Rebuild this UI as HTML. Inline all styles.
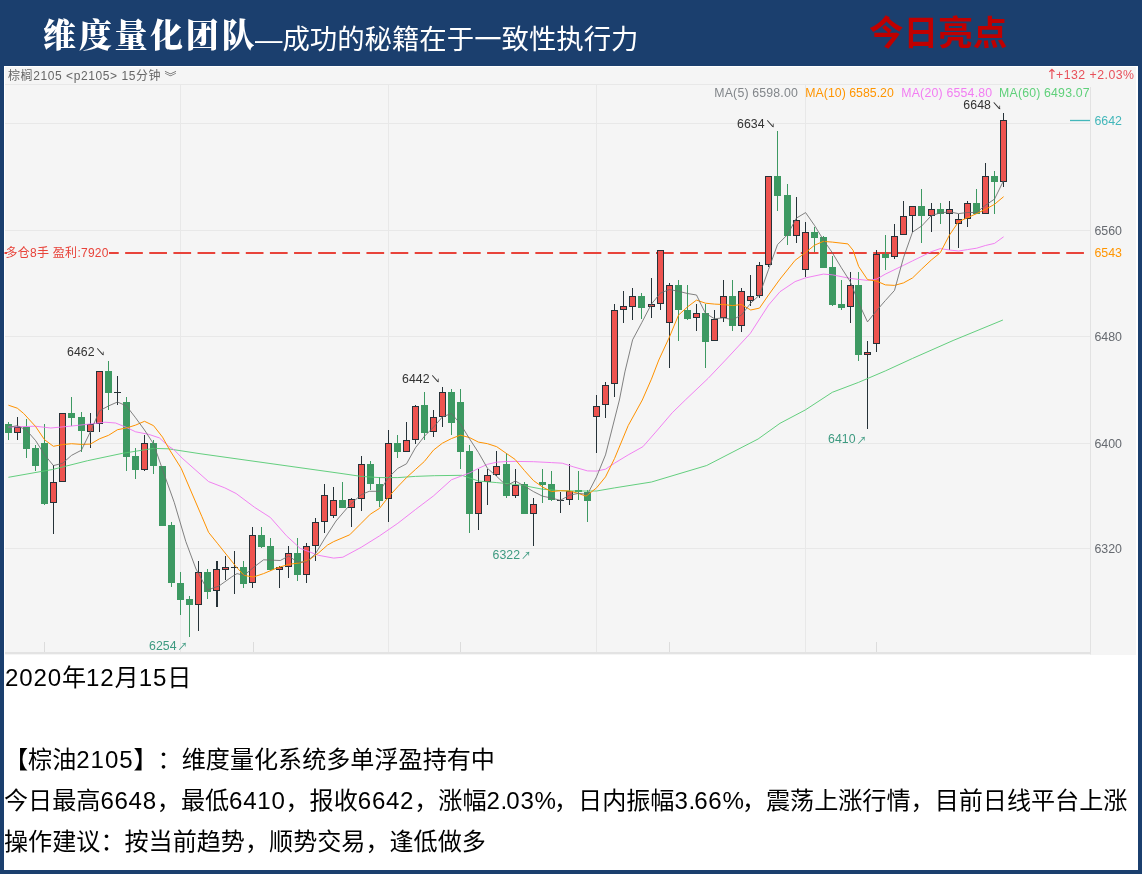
<!DOCTYPE html>
<html lang="zh-CN"><head><meta charset="utf-8"><title>维度量化团队</title>
<style>
html,body{margin:0;padding:0}
body{width:1142px;height:874px;background:#1b3f6e;position:relative;overflow:hidden;font-family:"Liberation Sans","Noto Sans CJK SC",sans-serif}
#t1{position:absolute;left:43px;top:14px;font:900 33px/44px "Liberation Serif","Noto Serif CJK SC",serif;color:#fff;letter-spacing:2.7px;white-space:nowrap}
#t2{position:absolute;left:255px;top:21px;font:400 27.4px/38px "Liberation Sans","Noto Sans CJK SC",sans-serif;color:#fff;white-space:nowrap}
#t3{position:absolute;left:869px;top:10px;font:700 34.6px/46px "Liberation Sans","Noto Sans CJK SC",sans-serif;color:#c00000;white-space:nowrap}
#panel{position:absolute;left:4px;top:66px;width:1134px;height:804px;background:#fff}
#chart{position:absolute;left:1px;top:1px;width:1131px;height:588px;background:#f5f5f5}
svg{position:absolute;left:0;top:0}
svg text{font-family:"Liberation Sans","Noto Sans CJK SC",sans-serif}
#txt{position:absolute;left:4px;top:657px;width:1134px;color:#000;font-size:24.1px;line-height:41px;white-space:nowrap;text-spacing-trim:space-all}
#txt div{height:41px}
#txt .a{letter-spacing:.85px}
#txt .b{letter-spacing:.9px}
#txt .c{letter-spacing:.7px}
#txt .p{letter-spacing:-1px}
#txt .q{letter-spacing:-2px}
</style></head><body>
<div id="t1">维度量化团队</div>
<div id="t2">—成功的秘籍在于一致性执行力</div>
<div id="t3">今日亮点</div>
<div id="panel"><div id="chart"></div></div>
<svg width="1142" height="874" viewBox="0 0 1142 874">
<line x1="5" y1="84.5" x2="1040" y2="84.5" stroke="#e8e8e8"/>
<line x1="5" y1="123.5" x2="1090" y2="123.5" stroke="#e8e8e8"/>
<line x1="5" y1="230.5" x2="1090" y2="230.5" stroke="#e8e8e8"/>
<line x1="5" y1="336.5" x2="1090" y2="336.5" stroke="#e8e8e8"/>
<line x1="5" y1="443.5" x2="1090" y2="443.5" stroke="#e8e8e8"/>
<line x1="5" y1="548.5" x2="1090" y2="548.5" stroke="#e8e8e8"/>
<line x1="180.5" y1="85" x2="180.5" y2="652" stroke="#e8e8e8"/>
<line x1="388.5" y1="85" x2="388.5" y2="652" stroke="#e8e8e8"/>
<line x1="596.5" y1="85" x2="596.5" y2="652" stroke="#e8e8e8"/>
<line x1="805.5" y1="85" x2="805.5" y2="652" stroke="#e8e8e8"/>
<line x1="1090.5" y1="87" x2="1090.5" y2="654.5" stroke="#e2e2e2"/>
<line x1="44.5" y1="642" x2="44.5" y2="652" stroke="#dcdcdc"/>
<line x1="253.5" y1="642" x2="253.5" y2="652" stroke="#dcdcdc"/>
<line x1="460.5" y1="642" x2="460.5" y2="652" stroke="#dcdcdc"/>
<line x1="669.5" y1="642" x2="669.5" y2="652" stroke="#dcdcdc"/>
<line x1="876.5" y1="642" x2="876.5" y2="652" stroke="#dcdcdc"/>
<rect x="5" y="652" width="1085.5" height="2" fill="#e3e3e3"/>
<line x1="4.5" y1="253" x2="1084.2" y2="253" stroke="#e8433a" stroke-width="2" stroke-dasharray="17.7 6.43"/>
<rect x="7" y="245" width="102" height="15" fill="#f5f5f5"/>
<g shape-rendering="crispEdges"><path d="M8.5 422V440" stroke="#3d9962"/><rect x="5.0" y="424" width="7" height="9" fill="#3d9962"/><path d="M17.5 417V440" stroke="#263238"/><rect x="14.5" y="427.5" width="6" height="5" fill="#ee534f" stroke="#263238"/><path d="M26.5 419V458" stroke="#3d9962"/><rect x="23.0" y="427" width="7" height="22" fill="#3d9962"/><path d="M35.5 445V471" stroke="#3d9962"/><rect x="32.0" y="448" width="7" height="18" fill="#3d9962"/><path d="M44.5 424V505" stroke="#3d9962"/><rect x="41.0" y="443" width="7" height="61" fill="#3d9962"/><path d="M53.5 465V534" stroke="#263238"/><rect x="50.5" y="482.5" width="6" height="20" fill="#ee534f" stroke="#263238"/><path d="M62.5 413V482" stroke="#263238"/><rect x="59.5" y="413.5" width="6" height="68" fill="#ee534f" stroke="#263238"/><path d="M71.5 397V426" stroke="#3d9962"/><rect x="68.0" y="413" width="7" height="5" fill="#3d9962"/><path d="M81.5 412V452" stroke="#3d9962"/><rect x="78.0" y="417" width="7" height="14" fill="#3d9962"/><path d="M90.5 413V448" stroke="#263238"/><rect x="87.5" y="424.5" width="6" height="7" fill="#ee534f" stroke="#263238"/><path d="M99.5 371V432" stroke="#263238"/><rect x="96.5" y="371.5" width="6" height="52" fill="#ee534f" stroke="#263238"/><path d="M108.5 361V410" stroke="#3d9962"/><rect x="105.0" y="371" width="7" height="22" fill="#3d9962"/><path d="M117.5 376V405M114.0 392.5H121.0" stroke="#263238"/><path d="M126.5 397V471" stroke="#3d9962"/><rect x="123.0" y="402" width="7" height="55" fill="#3d9962"/><path d="M135.5 448V479" stroke="#3d9962"/><rect x="132.0" y="456" width="7" height="14" fill="#3d9962"/><path d="M144.5 435V471" stroke="#263238"/><rect x="141.5" y="443.5" width="6" height="26" fill="#ee534f" stroke="#263238"/><path d="M153.5 440V474" stroke="#3d9962"/><rect x="150.0" y="443" width="7" height="23" fill="#3d9962"/><path d="M162.5 466V526" stroke="#3d9962"/><rect x="159.0" y="466" width="7" height="60" fill="#3d9962"/><path d="M171.5 522V587" stroke="#3d9962"/><rect x="168.0" y="525" width="7" height="58" fill="#3d9962"/><path d="M180.5 572V615" stroke="#3d9962"/><rect x="177.0" y="583" width="7" height="17" fill="#3d9962"/><path d="M189.5 596V637" stroke="#3d9962"/><rect x="186.0" y="599" width="7" height="6" fill="#3d9962"/><path d="M198.5 561V631" stroke="#263238"/><rect x="195.5" y="572.5" width="6" height="32" fill="#ee534f" stroke="#263238"/><path d="M207.5 569V599" stroke="#3d9962"/><rect x="204.0" y="572" width="7" height="20" fill="#3d9962"/><path d="M216.5 561V607" stroke="#263238" stroke-width="2"/><rect x="213.5" y="569.5" width="6" height="21" fill="#ee534f" stroke="#263238"/><path d="M225.5 556V580" stroke="#263238"/><rect x="222.5" y="567.5" width="6" height="2" fill="#ee534f" stroke="#263238"/><path d="M234.5 551V594M231.0 567.5H238.0" stroke="#263238"/><path d="M243.5 561V588" stroke="#3d9962"/><rect x="240.0" y="567" width="7" height="17" fill="#3d9962"/><path d="M252.5 527V588" stroke="#263238"/><rect x="249.5" y="535.5" width="6" height="47" fill="#ee534f" stroke="#263238"/><path d="M261.5 527V548" stroke="#3d9962"/><rect x="258.0" y="535" width="7" height="12" fill="#3d9962"/><path d="M270.5 538V571" stroke="#3d9962"/><rect x="267.0" y="546" width="7" height="24" fill="#3d9962"/><path d="M279.5 566V588" stroke="#263238"/><rect x="276.5" y="567.5" width="6" height="2" fill="#ee534f" stroke="#263238"/><path d="M288.5 546V578" stroke="#263238"/><rect x="285.5" y="553.5" width="6" height="13" fill="#ee534f" stroke="#263238"/><path d="M297.5 538V581" stroke="#3d9962"/><rect x="294.0" y="553" width="7" height="22" fill="#3d9962"/><path d="M306.5 543V583" stroke="#263238"/><rect x="303.5" y="546.5" width="6" height="28" fill="#ee534f" stroke="#263238"/><path d="M315.5 518V561" stroke="#263238"/><rect x="312.5" y="522.5" width="6" height="23" fill="#ee534f" stroke="#263238"/><path d="M324.5 484V533" stroke="#263238"/><rect x="321.5" y="495.5" width="6" height="26" fill="#ee534f" stroke="#263238"/><path d="M333.5 487V518" stroke="#263238"/><rect x="330.5" y="500.5" width="6" height="15" fill="#ee534f" stroke="#263238"/><path d="M342.5 482V508" stroke="#3d9962"/><rect x="339.0" y="500" width="7" height="8" fill="#3d9962"/><path d="M351.5 498V527" stroke="#263238"/><rect x="348.5" y="499.5" width="6" height="8" fill="#ee534f" stroke="#263238"/><path d="M361.5 456V511" stroke="#263238"/><rect x="358.5" y="464.5" width="6" height="34" fill="#ee534f" stroke="#263238"/><path d="M370.5 461V490" stroke="#3d9962"/><rect x="367.0" y="464" width="7" height="20" fill="#3d9962"/><path d="M379.5 477V507" stroke="#3d9962"/><rect x="376.0" y="484" width="7" height="17" fill="#3d9962"/><path d="M388.5 430V522" stroke="#263238"/><rect x="385.5" y="443.5" width="6" height="55" fill="#ee534f" stroke="#263238"/><path d="M397.5 435V458" stroke="#3d9962"/><rect x="394.0" y="443" width="7" height="9" fill="#3d9962"/><path d="M406.5 422V452" stroke="#263238"/><rect x="403.5" y="440.5" width="6" height="11" fill="#ee534f" stroke="#263238"/><path d="M415.5 405V444" stroke="#263238"/><rect x="412.5" y="406.5" width="6" height="33" fill="#ee534f" stroke="#263238"/><path d="M424.5 392V440" stroke="#3d9962"/><rect x="421.0" y="405" width="7" height="28" fill="#3d9962"/><path d="M433.5 410V437" stroke="#263238"/><rect x="430.5" y="417.5" width="6" height="14" fill="#ee534f" stroke="#263238"/><path d="M442.5 387V427" stroke="#263238"/><rect x="439.5" y="392.5" width="6" height="24" fill="#ee534f" stroke="#263238"/><path d="M451.5 389V435" stroke="#3d9962"/><rect x="448.0" y="392" width="7" height="31" fill="#3d9962"/><path d="M460.5 389V469" stroke="#3d9962"/><rect x="457.0" y="402" width="7" height="50" fill="#3d9962"/><path d="M469.5 445V533" stroke="#3d9962"/><rect x="466.0" y="451" width="7" height="63" fill="#3d9962"/><path d="M478.5 469V530" stroke="#263238"/><rect x="475.5" y="482.5" width="6" height="31" fill="#ee534f" stroke="#263238"/><path d="M487.5 469V505" stroke="#263238"/><rect x="484.5" y="475.5" width="6" height="6" fill="#ee534f" stroke="#263238"/><path d="M496.5 451V476" stroke="#263238"/><rect x="493.5" y="466.5" width="6" height="8" fill="#ee534f" stroke="#263238"/><path d="M506.5 453V498" stroke="#3d9962"/><rect x="503.0" y="464" width="7" height="32" fill="#3d9962"/><path d="M515.5 469V498" stroke="#263238"/><rect x="512.5" y="485.5" width="6" height="10" fill="#ee534f" stroke="#263238"/><path d="M524.5 482V514" stroke="#3d9962"/><rect x="521.0" y="484" width="7" height="30" fill="#3d9962"/><path d="M533.5 498V546" stroke="#263238"/><rect x="530.5" y="504.5" width="6" height="9" fill="#ee534f" stroke="#263238"/><path d="M542.5 469V503" stroke="#3d9962"/><rect x="539.0" y="482" width="7" height="3" fill="#3d9962"/><path d="M551.5 471V501" stroke="#3d9962"/><rect x="548.0" y="484" width="7" height="16" fill="#3d9962"/><path d="M560.5 492V513M557.0 500.5H564.0" stroke="#263238"/><path d="M569.5 464V505" stroke="#263238"/><rect x="566.5" y="491.5" width="6" height="8" fill="#ee534f" stroke="#263238"/><path d="M578.5 471V500" stroke="#3d9962"/><rect x="575.0" y="490" width="7" height="2" fill="#3d9962"/><path d="M587.5 490V522" stroke="#3d9962"/><rect x="584.0" y="492" width="7" height="9" fill="#3d9962"/><path d="M596.5 395V453" stroke="#263238"/><rect x="593.5" y="406.5" width="6" height="10" fill="#ee534f" stroke="#263238"/><path d="M605.5 382V418" stroke="#263238"/><rect x="602.5" y="385.5" width="6" height="19" fill="#ee534f" stroke="#263238"/><path d="M614.5 304V397" stroke="#263238"/><rect x="611.5" y="310.5" width="6" height="73" fill="#ee534f" stroke="#263238"/><path d="M623.5 291V323" stroke="#263238"/><rect x="620.5" y="306.5" width="6" height="3" fill="#ee534f" stroke="#263238"/><path d="M632.5 288V320" stroke="#263238"/><rect x="629.5" y="296.5" width="6" height="10" fill="#ee534f" stroke="#263238"/><path d="M641.5 293V319" stroke="#3d9962"/><rect x="638.0" y="296" width="7" height="12" fill="#3d9962"/><path d="M651.5 278V318" stroke="#263238"/><rect x="648.5" y="304.5" width="6" height="2" fill="#ee534f" stroke="#263238"/><path d="M660.5 250V310" stroke="#263238"/><rect x="657.5" y="250.5" width="6" height="53" fill="#ee534f" stroke="#263238"/><path d="M669.5 283V368" stroke="#263238"/><rect x="666.5" y="285.5" width="6" height="37" fill="#ee534f" stroke="#263238"/><path d="M678.5 280V341" stroke="#3d9962"/><rect x="675.0" y="285" width="7" height="25" fill="#3d9962"/><path d="M687.5 285V320" stroke="#3d9962"/><rect x="684.0" y="310" width="7" height="9" fill="#3d9962"/><path d="M696.5 304V331" stroke="#263238"/><rect x="693.5" y="313.5" width="6" height="4" fill="#ee534f" stroke="#263238"/><path d="M705.5 304V368" stroke="#3d9962"/><rect x="702.0" y="313" width="7" height="29" fill="#3d9962"/><path d="M714.5 310V341" stroke="#263238"/><rect x="711.5" y="319.5" width="6" height="21" fill="#ee534f" stroke="#263238"/><path d="M723.5 280V322" stroke="#263238"/><rect x="720.5" y="296.5" width="6" height="21" fill="#ee534f" stroke="#263238"/><path d="M732.5 280V331" stroke="#3d9962"/><rect x="729.0" y="296" width="7" height="30" fill="#3d9962"/><path d="M741.5 288V332" stroke="#263238"/><rect x="738.5" y="291.5" width="6" height="34" fill="#ee534f" stroke="#263238"/><path d="M750.5 275V306" stroke="#263238"/><rect x="747.5" y="296.5" width="6" height="4" fill="#ee534f" stroke="#263238"/><path d="M759.5 262V298" stroke="#263238"/><rect x="756.5" y="265.5" width="6" height="30" fill="#ee534f" stroke="#263238"/><path d="M768.5 176V267" stroke="#263238"/><rect x="765.5" y="176.5" width="6" height="88" fill="#ee534f" stroke="#263238"/><path d="M777.5 131V211" stroke="#3d9962"/><rect x="774.0" y="176" width="7" height="20" fill="#3d9962"/><path d="M787.5 184V245" stroke="#3d9962"/><rect x="784.0" y="195" width="7" height="41" fill="#3d9962"/><path d="M796.5 197V243" stroke="#263238"/><rect x="793.5" y="220.5" width="6" height="15" fill="#ee534f" stroke="#263238"/><path d="M805.5 222V277" stroke="#263238"/><rect x="802.5" y="232.5" width="6" height="37" fill="#ee534f" stroke="#263238"/><path d="M814.5 227V252" stroke="#3d9962"/><rect x="811.0" y="232" width="7" height="6" fill="#3d9962"/><path d="M823.5 236V268" stroke="#3d9962"/><rect x="820.0" y="237" width="7" height="31" fill="#3d9962"/><path d="M832.5 256V306" stroke="#3d9962"/><rect x="829.0" y="267" width="7" height="38" fill="#3d9962"/><path d="M841.5 280V310" stroke="#3d9962"/><rect x="838.0" y="304" width="7" height="4" fill="#3d9962"/><path d="M850.5 272V323" stroke="#263238"/><rect x="847.5" y="285.5" width="6" height="21" fill="#ee534f" stroke="#263238"/><path d="M858.5 272V361" stroke="#3d9962"/><rect x="855.0" y="285" width="7" height="70" fill="#3d9962"/><path d="M867.5 341V429" stroke="#263238"/><rect x="864.5" y="352.5" width="6" height="2" fill="#ee534f" stroke="#263238"/><path d="M876.5 250V352" stroke="#263238"/><rect x="873.5" y="254.5" width="6" height="89" fill="#ee534f" stroke="#263238"/><path d="M885.5 235V270" stroke="#3d9962"/><rect x="882.0" y="254" width="7" height="4" fill="#3d9962"/><path d="M894.5 224V259" stroke="#263238"/><rect x="891.5" y="236.5" width="6" height="20" fill="#ee534f" stroke="#263238"/><path d="M903.5 201V235" stroke="#263238"/><rect x="900.5" y="216.5" width="6" height="18" fill="#ee534f" stroke="#263238"/><path d="M912.5 206V232" stroke="#263238"/><rect x="909.5" y="206.5" width="6" height="9" fill="#ee534f" stroke="#263238"/><path d="M921.5 189V243" stroke="#3d9962"/><rect x="918.0" y="206" width="7" height="10" fill="#3d9962"/><path d="M931.5 203V232" stroke="#263238"/><rect x="928.5" y="209.5" width="6" height="6" fill="#ee534f" stroke="#263238"/><path d="M940.5 203V224" stroke="#3d9962"/><rect x="937.0" y="209" width="7" height="5" fill="#3d9962"/><path d="M949.5 201V250" stroke="#263238"/><rect x="946.5" y="209.5" width="6" height="4" fill="#ee534f" stroke="#263238"/><path d="M958.5 214V248" stroke="#263238"/><rect x="955.5" y="219.5" width="6" height="4" fill="#ee534f" stroke="#263238"/><path d="M967.5 201V227" stroke="#263238"/><rect x="964.5" y="203.5" width="6" height="15" fill="#ee534f" stroke="#263238"/><path d="M976.5 189V214" stroke="#3d9962"/><rect x="973.0" y="203" width="7" height="11" fill="#3d9962"/><path d="M985.5 163V214" stroke="#263238"/><rect x="982.5" y="176.5" width="6" height="37" fill="#ee534f" stroke="#263238"/><path d="M994.5 171V214" stroke="#3d9962"/><rect x="991.0" y="176" width="7" height="6" fill="#3d9962"/><path d="M1003.5 113V187" stroke="#263238"/><rect x="1000.5" y="120.5" width="6" height="61" fill="#ee534f" stroke="#263238"/></g>
<polyline points="8.4,477.3 52.5,469.5 87.6,460.7 122.6,453.3 153.6,448.4 168.1,448.8 200.0,453.7 340.0,473.3 361.2,476.4 379.5,477.6 397.8,477.6 415.4,476.4 434.4,475.7 461.9,475.3 478.4,481.0 496.7,482.6 520.0,484.9 542.5,489.2 560.4,490.7 578.4,491.0 596.5,491.0 614.5,487.9 651.5,482.0 706.7,465.5 758.1,439.0 780.0,423.3 805.4,409.9 832.3,392.3 858.7,382.3 885.4,370.9 912.6,358.4 953.1,340.5 1002.9,320.0" fill="none" stroke="#52c970" stroke-width="0.9" stroke-linejoin="round"/>
<polyline points="8.4,427.1 35.0,426.2 50.8,428.0 70.0,426.2 91.0,423.9 105.0,422.2 115.6,423.0 126.4,427.4 135.6,431.8 148.9,434.4 159.4,437.9 168.1,445.8 174.3,450.0 182.1,458.1 208.6,481.6 224.7,487.8 236.1,493.5 254.4,507.2 270.4,517.5 286.5,535.8 300.2,548.4 318.5,555.3 333.7,558.1 342.9,557.2 361.2,547.3 379.5,535.9 397.8,523.3 415.4,509.6 433.5,495.9 451.4,479.8 460.3,476.4 469.4,473.0 478.4,468.4 487.5,464.3 496.7,462.2 506.5,461.5 515.2,461.4 533.5,461.7 551.5,462.6 562.3,463.2 573.3,466.8 587.5,470.9 596.5,471.1 605.5,469.2 614.5,463.2 628.2,454.9 642.9,446.7 655.7,432.1 672.2,412.8 685.3,400.0 708.2,378.3 726.5,359.0 750.3,333.4 768.6,305.0 780.0,291.7 795.1,281.6 805.4,277.9 823.3,274.1 832.3,274.8 850.2,278.4 867.5,280.4 876.6,279.1 885.4,274.1 903.5,265.3 912.5,260.9 931.3,251.7 940.3,248.6 949.4,250.0 958.5,251.0 967.5,249.6 976.6,248.2 985.4,245.5 994.5,243.4 1003.6,236.8" fill="none" stroke="#f074f0" stroke-width="0.9" stroke-linejoin="round"/>
<polyline points="8.4,405.2 17.3,408.2 23.6,413.4 35.6,426.5 44.5,439.7 53.4,446.3 62.5,444.6 71.5,443.7 81.4,444.4 90.4,444.1 99.5,438.8 108.6,435.3 117.5,429.7 126.4,428.0 135.6,425.1 144.5,421.3 153.6,425.7 162.5,437.1 169.7,450.0 181.2,468.3 201.8,516.4 208.6,532.4 217.8,543.8 236.1,566.7 244.1,575.4 253.3,577.0 263.6,573.6 277.3,567.8 288.7,564.4 300.2,562.8 309.3,559.8 318.5,553.0 327.6,545.0 333.7,541.6 349.7,534.8 361.2,523.3 370.3,514.2 379.5,508.4 388.4,497.0 397.8,486.7 406.5,477.6 415.4,469.5 424.3,461.5 433.5,450.1 442.4,443.2 451.4,438.6 460.3,435.2 469.4,437.5 478.4,442.1 487.5,443.7 496.7,446.7 506.5,453.5 515.2,459.5 524.4,470.5 533.5,480.6 542.5,487.0 551.5,491.6 560.4,490.7 569.4,491.0 578.4,493.4 586.0,496.2 596.5,487.9 605.5,476.9 614.5,458.6 628.2,425.6 642.3,400.0 651.4,379.2 658.8,360.0 669.4,337.1 678.5,315.1 687.5,306.9 696.5,300.1 705.5,303.2 714.6,304.1 723.4,304.5 732.6,305.6 741.4,304.5 750.7,310.0 759.5,308.1 768.6,294.9 780.0,279.1 795.1,260.3 805.4,252.7 814.5,245.2 823.3,241.4 832.3,242.1 847.9,243.9 853.0,250.2 858.7,266.5 867.5,279.6 876.6,281.1 885.4,284.9 894.5,285.4 903.5,282.9 912.6,277.9 921.6,269.1 931.3,260.0 940.3,252.7 949.4,235.2 958.5,221.8 967.5,217.7 976.6,213.6 985.4,209.4 994.5,204.3 1003.6,196.7" fill="none" stroke="#ff9200" stroke-width="1" stroke-linejoin="round"/>
<polyline points="8.4,427.4 17.3,425.7 26.4,430.0 35.6,440.6 44.5,454.6 53.4,465.6 62.5,463.3 71.5,455.4 81.4,450.2 90.4,431.8 99.5,410.8 108.6,405.9 117.5,402.0 126.4,405.9 135.6,417.8 144.5,430.0 153.6,444.0 162.9,470.6 174.3,502.6 185.8,541.5 196.0,569.0 207.5,590.0 219.0,586.0 231.5,577.0 237.0,573.6 244.0,575.4 254.4,566.7 263.6,559.8 280.3,560.5 288.7,556.0 297.4,562.0 306.4,562.0 315.3,554.0 324.4,539.0 336.0,521.0 349.7,505.0 361.2,494.7 369.2,491.3 379.5,491.3 388.4,477.6 397.8,468.4 406.5,463.8 415.4,447.8 424.3,436.4 433.5,427.2 442.4,416.9 451.4,413.5 460.3,423.8 469.4,438.6 478.4,452.4 487.5,468.4 496.7,476.4 506.5,485.6 515.4,481.0 524.4,486.1 533.5,491.6 542.5,496.2 551.5,498.0 560.4,500.4 569.4,495.2 578.4,493.4 587.5,494.3 596.5,476.9 605.5,454.9 619.4,400.0 624.9,371.9 632.6,339.8 641.9,322.4 651.4,304.1 660.4,293.1 669.4,289.5 678.5,291.3 687.5,293.5 696.5,295.0 700.9,304.1 705.5,313.3 714.6,318.8 723.4,317.8 732.6,319.7 741.4,315.1 750.7,303.2 759.5,295.0 768.6,269.3 777.5,244.6 787.6,234.5 796.4,218.1 805.6,212.6 814.5,225.4 823.5,240.0 832.3,252.7 841.4,267.8 850.2,281.6 858.7,303.0 867.5,321.9 876.6,310.6 885.4,300.5 894.5,290.4 903.5,257.7 912.5,232.1 921.8,225.9 931.3,215.6 940.3,212.9 949.4,211.9 958.5,213.6 967.5,212.5 976.6,212.5 985.4,205.3 994.5,199.1 1003.6,180.6" fill="none" stroke="#6c6c6c" stroke-width="0.85" stroke-linejoin="round"/>
<text x="8" y="80.2" fill="#666" font-size="12" text-anchor="start" textLength="152.5" lengthAdjust="spacing">棕榈2105 &lt;p2105&gt; 15分钟</text>
<text x="164.5" y="82.3" fill="#666" font-size="12" text-anchor="start">︾</text>
<text x="1046.2" y="79.4" fill="#e8505a" font-size="14" text-anchor="start" style="font-family:'DejaVu Sans',sans-serif">↑</text>
<text x="1056" y="79" fill="#e8505a" font-size="12.3" text-anchor="start" textLength="78" lengthAdjust="spacing">+132 +2.03%</text>
<text x="714.3" y="97.2" fill="#82868a" font-size="12.3" text-anchor="start" textLength="83.5" lengthAdjust="spacing">MA(5) 6598.00</text>
<text x="805.3" y="97.2" fill="#ff9500" font-size="12.3" text-anchor="start" textLength="88.5" lengthAdjust="spacing">MA(10) 6585.20</text>
<text x="901.2" y="97.2" fill="#f27df2" font-size="12.3" text-anchor="start" textLength="91" lengthAdjust="spacing">MA(20) 6554.80</text>
<text x="999.1" y="97.2" fill="#5fd07a" font-size="12.3" text-anchor="start" textLength="90.5" lengthAdjust="spacing">MA(60) 6493.07</text>
<text x="1094.5" y="235.0" fill="#666a70" font-size="12.4" text-anchor="start" textLength="27.4" lengthAdjust="spacing">6560</text>
<text x="1094.5" y="341.0" fill="#666a70" font-size="12.4" text-anchor="start" textLength="27.4" lengthAdjust="spacing">6480</text>
<text x="1094.5" y="448.0" fill="#666a70" font-size="12.4" text-anchor="start" textLength="27.4" lengthAdjust="spacing">6400</text>
<text x="1094.5" y="553.0" fill="#666a70" font-size="12.4" text-anchor="start" textLength="27.4" lengthAdjust="spacing">6320</text>
<text x="1094.5" y="256.9" fill="#ff9500" font-size="12.4" text-anchor="start" textLength="27.4" lengthAdjust="spacing">6543</text>
<text x="1094.5" y="125.0" fill="#43b7ba" font-size="12.4" text-anchor="start" textLength="27.4" lengthAdjust="spacing">6642</text>
<line x1="1070" y1="120.5" x2="1090" y2="120.5" stroke="#43b7ba" stroke-width="1.3"/>
<text x="5.5" y="257" fill="#e8433a" font-size="12" text-anchor="start" textLength="103" lengthAdjust="spacing">多仓8手 盈利:7920</text>
<text x="67" y="355.6" fill="#333" font-size="12.3"><tspan textLength="27.6" lengthAdjust="spacing">6462</tspan><tspan x="95.6" dy="0.4" font-size="10">↘</tspan></text>
<text x="402" y="383" fill="#333" font-size="12.3"><tspan textLength="27.6" lengthAdjust="spacing">6442</tspan><tspan x="430.6" dy="0.4" font-size="10">↘</tspan></text>
<text x="737" y="127.5" fill="#333" font-size="12.3"><tspan textLength="27.6" lengthAdjust="spacing">6634</tspan><tspan x="765.6" dy="0.4" font-size="10">↘</tspan></text>
<text x="963.3" y="109.3" fill="#333" font-size="12.3"><tspan textLength="27.6" lengthAdjust="spacing">6648</tspan><tspan x="991.9" dy="0.4" font-size="10">↘</tspan></text>
<text x="149" y="650" fill="#3d9a80" font-size="12.3"><tspan textLength="27.6" lengthAdjust="spacing">6254</tspan><tspan x="177.6" dy="0.2" font-size="10">↗</tspan></text>
<text x="492.5" y="559" fill="#3d9a80" font-size="12.3"><tspan textLength="27.6" lengthAdjust="spacing">6322</tspan><tspan x="521.1" dy="0.2" font-size="10">↗</tspan></text>
<text x="828" y="443.3" fill="#3d9a80" font-size="12.3"><tspan textLength="27.6" lengthAdjust="spacing">6410</tspan><tspan x="856.6" dy="0.2" font-size="10">↗</tspan></text>
</svg>
<div id="txt">
<div style="padding-left:1px"><span class="a">2020</span>年<span class="a">12</span>月<span class="a">15</span>日</div>
<div></div>
<div>【棕油<span class="b">2105</span>】：维度量化系统多单浮盈持有中</div>
<div>今日最高<span class="c">6648</span>，最低<span class="c">6410</span>，报收<span class="c">6642</span>，涨幅<span class="c">2<span class="p">.</span>03<span class="q">%</span></span>，日内振幅<span class="c">3<span class="p">.</span>66<span class="q">%</span></span>，震荡上涨行情，目前日线平台上涨</div>
<div>操作建议：按当前趋势，顺势交易，逢低做多</div>
</div>
</body></html>
